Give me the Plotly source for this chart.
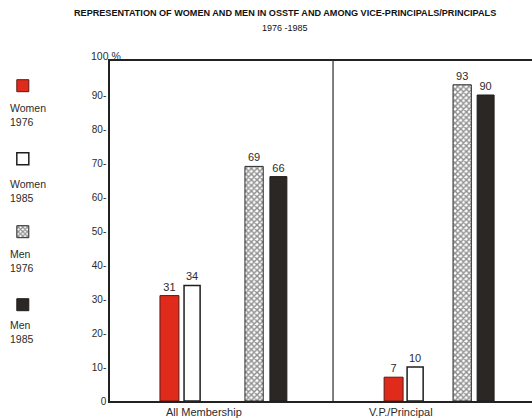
import plotly.graph_objects as go

# ---- data ----
categories = ["All Membership", "V.P./Principal"]
series_names = ["Women 1976", "Women 1985", "Men 1976", "Men 1985"]
women_1976 = [31, 7]
women_1985 = [34, 10]
men_1976 = [69, 93]
men_1985 = [66, 90]
y_tick_vals = [0, 10, 20, 30, 40, 50, 60, 70, 80, 90]
y_tick_text = ["0", "10-", "20-", "30-", "40-", "50-", "60-", "70-", "80-", "90-"]
title_line1 = "REPRESENTATION OF WOMEN AND MEN IN OSSTF AND AMONG VICE-PRINCIPALS/PRINCIPALS"
title_line2 = "1976 -1985"

values = [women_1976, women_1985, men_1976, men_1985]

# ---- styles ----
FONT = "Liberation Sans, Arial, sans-serif"
TXT = "#2b2b2b"
styles = [
    dict(color="#e02a1c", line=dict(color="#5a1a12", width=1)),
    dict(color="#ffffff", line=dict(color="#1e1e1e", width=1.5)),
    dict(color="#ffffff", line=dict(color="#2a2a2a", width=1),
         pattern=dict(shape="x", fgcolor="#1e1e1e", bgcolor="#ffffff", size=4, solidity=0.6)),
    dict(color="#2a2725", line=dict(color="#1e1e1e", width=1)),
]
# left-edge offsets of each bar relative to its category centre (category units)
offsets = [[-0.276, -0.271], [-0.168, -0.168], [0.105, 0.038], [0.217, 0.146]]
widths = [0.085, 0.072, 0.082, 0.076]

fig = go.Figure()
for i, (name, vals) in enumerate(zip(series_names, values)):
    fig.add_trace(go.Bar(
        x=categories, y=vals, name=" ", legendgroup=f"g{i}",
        marker=styles[i], offset=offsets[i], width=widths[i],
        text=vals, textposition="outside", cliponaxis=False,
        textfont=dict(family=FONT, size=11, color=TXT),
        hovertemplate=name + ": %{y}%<extra>%{x}</extra>",
    ))

# legend labels (text under swatches)
legend_label_y = [0.884, 0.662, 0.455, 0.246]
annotations = []
for nm, yy in zip(series_names, legend_label_y):
    w, yr = nm.split(" ")
    annotations.append(dict(xref="paper", yref="paper", x=-0.242, y=yy, xanchor="left", yanchor="top",
                            text=f"{w}<br>{yr}", showarrow=False, align="left",
                            font=dict(family=FONT, size=10.5, color=TXT)))
# category labels
for cat, xs in zip(categories, [-18, -44]):
    annotations.append(dict(xref="x", yref="y", x=cat, y=0, xshift=xs, yshift=-3, yanchor="top",
                            text=cat, showarrow=False, font=dict(family=FONT, size=11, color=TXT)))
# 100 % label
annotations.append(dict(xref="x domain", yref="y", x=0, y=100, xanchor="left", yanchor="bottom",
                        xshift=-21, yshift=-3, text="100 %", showarrow=False,
                        font=dict(family=FONT, size=10.5, color=TXT)))
# title lines
TFONT = "Liberation Sans Narrow, Arial Narrow, sans-serif"
annotations.append(dict(xref="paper", yref="paper", x=0.415, y=1.141, yanchor="middle",
                        text=f"<b>{title_line1}</b>", showarrow=False,
                        font=dict(family=TFONT, size=9.1, color="#111")))
annotations.append(dict(xref="paper", yref="paper", x=0.415, y=1.097, yanchor="middle",
                        text=title_line2, showarrow=False,
                        font=dict(family=TFONT, size=9, color="#111")))

fig.update_layout(
    width=532, height=420,
    margin=dict(l=110, r=0, t=61, b=19),
    paper_bgcolor="white", plot_bgcolor="white",
    barmode="overlay",
    legend=dict(x=-0.254, xanchor="left", y=0.97, yanchor="top", tracegroupgap=54,
                font=dict(size=10), bgcolor="rgba(0,0,0,0)", itemclick=False),
    annotations=annotations,
    shapes=[dict(type="line", xref="x", yref="paper", x0=0.5, x1=0.5, y0=0, y1=1,
                 line=dict(color="#555", width=1.5))],
    showlegend=True,
)
fig.update_xaxes(range=[-0.5, 1.392], showticklabels=False, ticks="", showgrid=False,
                 showline=True, linecolor="#222", linewidth=1.8, mirror=True, zeroline=False)
fig.update_yaxes(range=[0, 100], tickvals=y_tick_vals, ticktext=y_tick_text, ticks="",
                 showgrid=False, showline=True, linecolor="#222", linewidth=1.5, zeroline=False,
                 tickfont=dict(family=FONT, size=10, color=TXT))

fig.write_html("out.html")
